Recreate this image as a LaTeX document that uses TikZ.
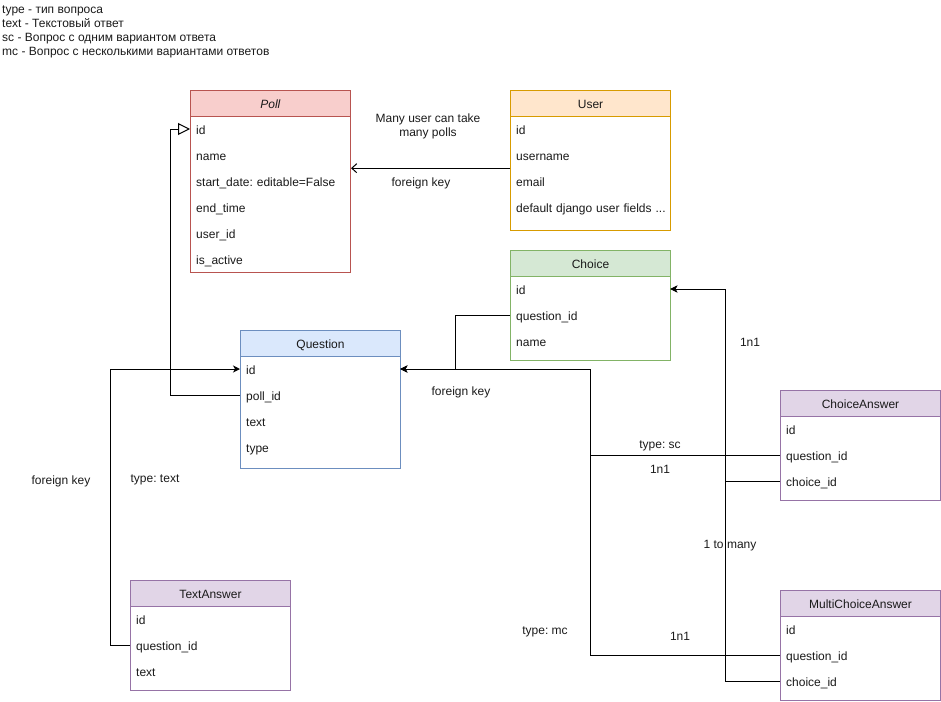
\documentclass[tikz,border=0pt]{standalone}
\usepackage{fontspec}
\setmainfont{Liberation Sans}
\usetikzlibrary{arrows.meta}
\frenchspacing

\definecolor{pollfill}{HTML}{F8CECC}\definecolor{pollline}{HTML}{B85450}
\definecolor{userfill}{HTML}{FFE6CC}\definecolor{userline}{HTML}{D79B00}
\definecolor{choicefill}{HTML}{D5E8D4}\definecolor{choiceline}{HTML}{82B366}
\definecolor{questfill}{HTML}{DAE8FC}\definecolor{questline}{HTML}{6C8EBF}
\definecolor{ansfill}{HTML}{E1D5E7}\definecolor{ansline}{HTML}{9673A6}
\definecolor{ink}{HTML}{1A1A1A}

\newcommand\moredots{...}

\tikzset{
  every node/.style={font=\fontsize{12}{14}\selectfont, text=ink},
  erbody/.style={draw, line width=1pt, fill=white, minimum width=160pt, inner sep=0pt},
  erhead/.style={draw, line width=1pt, minimum width=160pt, minimum height=26pt, inner sep=0pt, text height=12pt, text depth=2pt},
  errow/.style={minimum width=160pt, minimum height=26pt, text width=148pt, inner xsep=6pt, inner ysep=0pt, align=left, text height=12pt, text depth=2pt},
  pollstyle/.style={fill=pollfill, draw=pollline},
  userstyle/.style={fill=userfill, draw=userline},
  choicestyle/.style={fill=choicefill, draw=choiceline},
  queststyle/.style={fill=questfill, draw=questline},
  ansstyle/.style={fill=ansfill, draw=ansline},
  link/.style={draw=black, line width=1pt},
  fkarrow/.style={link, -{Stealth[length=7pt,width=7pt,inset=2pt]}},
  inherit/.style={link, -{Triangle[open,length=12pt,width=12pt,fill=white]}},
  manyarrow/.style={link, -{Straight Barb[length=5pt,width=9pt,line width=1pt]}},
  lbl/.style={align=center, inner sep=0pt},
}

% entity box: name, left x, top y, total height, title, colour style, rows
\newcommand\erbox[7]{%
  \node[erbody, draw=#6line, minimum height=#4pt, anchor=north west] (#1) at (#2,#3) {};
  \node[erhead, #6style, anchor=north west] (#1-h) at (#2,#3) {#5};
  \foreach \r [count=\i] in {#7} {
    \node[errow, anchor=west] (#1-\i) at (#2, #3+13+26*\i) {\mbox{\r}};
  }%
}

\begin{document}
\begin{tikzpicture}[x=1pt, y=-1pt]
  \useasboundingbox (0,0) rectangle (941,701);

  % legend
  \node[anchor=north west, align=left, inner sep=0pt] (legend) at (2,6)
    {type - тип вопроса\\text - Текстовый ответ\\sc - Вопрос с одним вариантом ответа\\mc - Вопрос с несколькими вариантами ответов};

  % entities
  \erbox{poll}{190}{90}{182}{\textit{Poll}}{poll}{id, name, start\_date: editable=False, end\_time, user\_id, is\_active}
  \erbox{user}{510}{90}{140}{User}{user}{id, username, email, default django user fields \moredots}
  \erbox{choice}{510}{250}{110}{Choice}{choice}{id, question\_id, name}
  \erbox{question}{240}{330}{138}{Question}{quest}{id, poll\_id, text, type}
  \erbox{ta}{130}{580}{110}{TextAnswer}{ans}{id, question\_id, text}
  \erbox{ca}{780}{390}{110}{ChoiceAnswer}{ans}{id, question\_id, choice\_id}
  \erbox{mca}{780}{590}{110}{MultiChoiceAnswer}{ans}{id, question\_id, choice\_id}

  % user -> poll
  \draw[manyarrow] (user-2.south west) -- (user-2.south west -| poll.east);
  \node[lbl] (l-many) at (428,126) {Many user can take\\many polls};
  \node[lbl] (l-fk1) at (421,183) {foreign key};

  % question -> poll
  \draw[inherit] (question-2.west) -- ++(-70,0) |- (poll-1.west);

  % choice -> question
  \draw[fkarrow] (choice-2.west) -- ++(-55,0) |- (question-1.east);
  \node[lbl] (l-fk2) at (461,392) {foreign key};

  % answers -> question
  \draw[fkarrow] (ca-2.west) -- ++(-190,0) |- (question-1.east);
  \draw[fkarrow] (mca-2.west) -- ++(-190,0) |- (question-1.east);
  \node[lbl] (l-sc) at (660,446) {type: sc};
  \node[lbl] (l-sc1) at (660,469) {1n1};
  \node[lbl] (l-mc) at (545,632) {type: mc};
  \node[lbl] (l-mc1) at (680,636) {1n1};

  % answers -> choice
  \draw[fkarrow] (ca-3.west) -- ++(-55,0) |- (choice-1.east);
  \draw[fkarrow] (mca-3.west) -- ++(-55,0) |- (choice-1.east);
  \node[lbl] (l-c1) at (750,342) {1n1};
  \node[lbl] (l-cmany) at (730,546) {1 to many};

  % text answer -> question
  \draw[fkarrow] (ta-2.west) -- ++(-20,0) |- (question-1.west);
  \node[lbl] (l-fk3) at (61,481) {foreign key};
  \node[lbl] (l-text) at (155,480) {type: text};
\end{tikzpicture}
\end{document}
